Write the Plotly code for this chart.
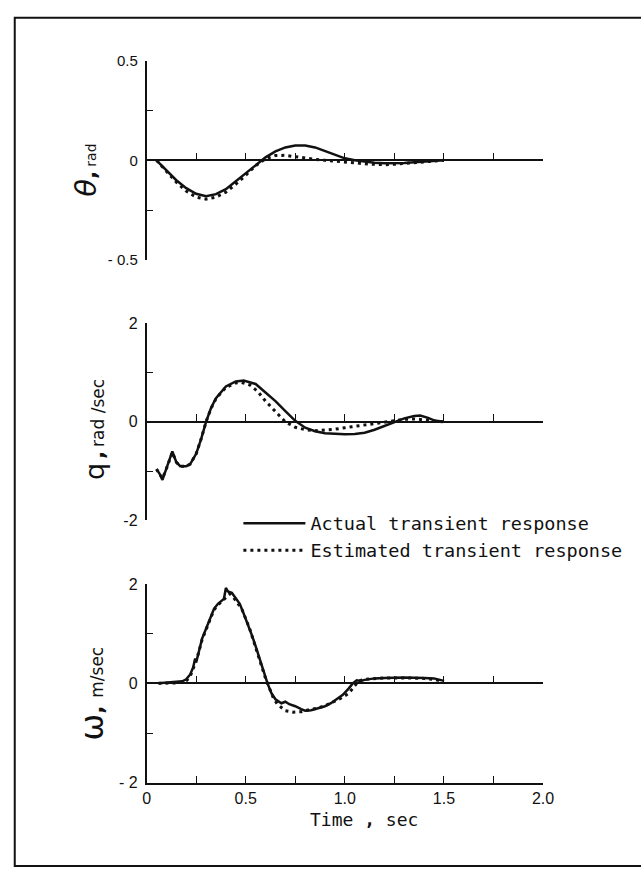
import plotly.graph_objects as go

# ---------------- data ----------------
theta_t = [0.05, 0.1, 0.15, 0.2, 0.25, 0.3, 0.35, 0.4, 0.45, 0.5, 0.55, 0.6, 0.65, 0.7, 0.75,
           0.8, 0.85, 0.9, 0.95, 1.0, 1.05, 1.1, 1.15, 1.2, 1.25, 1.3, 1.35, 1.4, 1.45, 1.5]
theta_act = [0.0, -0.05, -0.1, -0.14, -0.168, -0.18, -0.17, -0.145, -0.105, -0.062, -0.022, 0.015,
             0.045, 0.065, 0.075, 0.075, 0.065, 0.047, 0.027, 0.01, 0.0, -0.007, -0.012, -0.015,
             -0.015, -0.013, -0.01, -0.007, -0.003, 0.0]
theta_est = [0.0, -0.055, -0.11, -0.155, -0.185, -0.195, -0.185, -0.16, -0.12, -0.075, -0.027,
             0.008, 0.024, 0.025, 0.018, 0.01, 0.005, 0.0, -0.005, -0.01, -0.013, -0.017, -0.02,
             -0.022, -0.02, -0.017, -0.012, -0.008, -0.004, 0.0]

q_t_act = [0.05, 0.065, 0.08, 0.1, 0.12, 0.13, 0.15, 0.17, 0.2, 0.22, 0.25, 0.275, 0.3, 0.325,
           0.35, 0.4, 0.45, 0.49, 0.55, 0.6, 0.65, 0.7, 0.75, 0.8, 0.85, 0.9, 0.95, 1.0, 1.05,
           1.1, 1.15, 1.2, 1.25, 1.3, 1.35, 1.38, 1.42, 1.45, 1.5]
q_act = [-0.96, -1.05, -1.18, -0.95, -0.72, -0.6, -0.82, -0.9, -0.9, -0.86, -0.65, -0.35, 0.0,
         0.28, 0.48, 0.72, 0.82, 0.84, 0.77, 0.6, 0.42, 0.22, 0.02, -0.12, -0.19, -0.23, -0.245,
         -0.25, -0.245, -0.22, -0.16, -0.08, 0.0, 0.07, 0.12, 0.13, 0.08, 0.03, 0.0]
q_t_est = [0.05, 0.065, 0.08, 0.1, 0.12, 0.13, 0.15, 0.17, 0.2, 0.22, 0.25, 0.275, 0.3, 0.325,
           0.35, 0.4, 0.45, 0.48, 0.52, 0.56, 0.6, 0.65, 0.7, 0.75, 0.8, 0.85, 0.9, 0.95, 1.0,
           1.05, 1.1, 1.15, 1.2, 1.25, 1.3, 1.35, 1.4, 1.45, 1.5]
q_est = [-0.96, -1.05, -1.15, -0.95, -0.72, -0.62, -0.82, -0.9, -0.9, -0.86, -0.65, -0.35, 0.0,
         0.27, 0.47, 0.7, 0.79, 0.8, 0.75, 0.62, 0.42, 0.2, 0.0, -0.11, -0.16, -0.18, -0.17,
         -0.15, -0.12, -0.09, -0.06, -0.03, 0.0, 0.02, 0.05, 0.06, 0.04, 0.015, 0.0]

w_t_act = [0.06, 0.1, 0.15, 0.18, 0.2, 0.22, 0.235, 0.245, 0.25, 0.26, 0.28, 0.3, 0.32, 0.34,
           0.36, 0.38, 0.39, 0.4, 0.41, 0.43, 0.45, 0.47, 0.49, 0.51, 0.53, 0.55, 0.57, 0.59,
           0.61, 0.63, 0.65, 0.68, 0.7, 0.72, 0.75, 0.78, 0.8, 0.83, 0.87, 0.9, 0.93, 0.96,
           0.99, 1.02, 1.04, 1.06, 1.08, 1.1, 1.15, 1.2, 1.3, 1.4, 1.45, 1.5]
w_act = [0.0, 0.01, 0.02, 0.04, 0.08, 0.18, 0.32, 0.5, 0.42, 0.6, 0.9, 1.1, 1.3, 1.5, 1.6, 1.66,
         1.7, 1.92, 1.85, 1.82, 1.72, 1.6, 1.4, 1.2, 0.98, 0.75, 0.5, 0.22, 0.0, -0.2, -0.32,
         -0.4, -0.37, -0.42, -0.46, -0.52, -0.55, -0.54, -0.5, -0.46, -0.4, -0.32, -0.23, -0.1,
         0.0, 0.06, 0.05, 0.07, 0.1, 0.11, 0.12, 0.11, 0.1, 0.05]
w_t_est = [0.06, 0.1, 0.15, 0.18, 0.2, 0.22, 0.24, 0.25, 0.26, 0.28, 0.3, 0.32, 0.34, 0.36, 0.38,
           0.4, 0.42, 0.44, 0.46, 0.48, 0.5, 0.52, 0.54, 0.56, 0.58, 0.6, 0.62, 0.64, 0.66, 0.7,
           0.74, 0.78, 0.82, 0.86, 0.9, 0.94, 0.98, 1.02, 1.05, 1.07, 1.1, 1.15, 1.2, 1.3, 1.4,
           1.45, 1.5]
w_est = [0.0, 0.0, 0.01, 0.02, 0.05, 0.14, 0.35, 0.5, 0.58, 0.88, 1.08, 1.28, 1.48, 1.58, 1.65,
         1.72, 1.8, 1.72, 1.62, 1.5, 1.3, 1.1, 0.85, 0.62, 0.35, 0.1, -0.1, -0.3, -0.42, -0.55,
         -0.58, -0.57, -0.53, -0.5, -0.45, -0.38, -0.3, -0.2, -0.05, 0.05, 0.08, 0.1, 0.11, 0.11,
         0.1, 0.08, 0.03]

x_minor_ticks = [0.25 * i for i in range(9)]
x_tick_labels = ["0", "", "0.5", "", "1.0", "", "1.5", "", "2.0"]
theta_ticks = [-0.5, -0.25, 0, 0.25, 0.5]
theta_tick_labels = ["- 0.5", "", "0", "", "0.5"]
q_ticks = [-2, -1, 0, 1, 2]
q_tick_labels = ["-2", "", "0", "", "2"]
w_ticks = [-2, -1, 0, 1, 2]
w_tick_labels = ["- 2", "", "0", "", "2"]
legend_names = ["Actual transient response", "Estimated transient response"]

# ---------------- layout geometry ----------------
W, H = 641, 876
def px(x):
    return x / W
def py(y):
    return (H - y) / H

XD = [px(146), px(552)]
TOP = [py(256), py(53)]
MID = [py(522), py(321)]
BOT = [py(790), py(587)]

FONT = "Liberation Sans"
MONO = "DejaVu Sans Mono"
BLACK = "#111111"
solid = dict(color=BLACK, width=2.5)
dotted = dict(color=BLACK, width=3, dash="3px,4px")

fig = go.Figure()
fig.add_trace(go.Scatter(x=theta_t, y=theta_act, mode="lines", line=solid,
                         name=legend_names[0], xaxis="x", yaxis="y", showlegend=True))
fig.add_trace(go.Scatter(x=theta_t, y=theta_est, mode="lines", line=dotted,
                         name=legend_names[1], xaxis="x", yaxis="y", showlegend=True))
fig.add_trace(go.Scatter(x=q_t_act, y=q_act, mode="lines", line=solid,
                         xaxis="x2", yaxis="y2", showlegend=False))
fig.add_trace(go.Scatter(x=q_t_est, y=q_est, mode="lines", line=dotted,
                         xaxis="x2", yaxis="y2", showlegend=False))
fig.add_trace(go.Scatter(x=w_t_act, y=w_act, mode="lines", line=solid,
                         xaxis="x3", yaxis="y3", showlegend=False))
fig.add_trace(go.Scatter(x=w_t_est, y=w_est, mode="lines", line=dotted,
                         xaxis="x3", yaxis="y3", showlegend=False))
# carrier for the zero-line axis of the bottom panel
fig.add_trace(go.Scatter(x=[None], y=[None], xaxis="x4", yaxis="y3", showlegend=False,
                         hoverinfo="skip"))

def zero_pos(domain_pair, rng):
    lo, hi = domain_pair
    return lo + (hi - lo) * (0 - rng[0]) / (rng[1] - rng[0])

common_x = dict(range=[0, 2], domain=XD, showgrid=False, zeroline=False, showline=True,
                linecolor=BLACK, linewidth=1.6, ticks="inside", ticklen=7, tickwidth=1.4,
                tickcolor=BLACK, tickvals=x_minor_ticks, fixedrange=True)
common_y = dict(showgrid=False, zeroline=False, showline=True, linecolor=BLACK,
                linewidth=1.6, ticks="inside", ticklen=7, tickwidth=1.4, tickcolor=BLACK,
                ticklabelstandoff=4, fixedrange=True)

fig.update_layout(
    width=W, height=H,
    margin=dict(l=0, r=0, t=0, b=0),
    paper_bgcolor="white", plot_bgcolor="rgba(0,0,0,0)",
    xaxis=dict(common_x, anchor="free", position=zero_pos(TOP, [-0.5, 0.5]),
               showticklabels=False),
    yaxis=dict(common_y, domain=TOP, range=[-0.5, 0.5], anchor="x",
               tickvals=theta_ticks, ticktext=theta_tick_labels,
               tickfont=dict(family=FONT, size=15, color=BLACK)),
    xaxis2=dict(common_x, anchor="free", position=zero_pos(MID, [-2, 2]),
                showticklabels=False),
    yaxis2=dict(common_y, domain=MID, range=[-2, 2], anchor="x2",
                tickvals=q_ticks, ticktext=q_tick_labels,
                tickfont=dict(family=FONT, size=16, color=BLACK)),
    xaxis3=dict(common_x, anchor="y3", ticktext=x_tick_labels,
                tickfont=dict(family=FONT, size=16, color=BLACK)),
    yaxis3=dict(common_y, domain=BOT, range=[-2, 2], anchor="x3",
                tickvals=w_ticks, ticktext=w_tick_labels,
                tickfont=dict(family=FONT, size=16, color=BLACK)),
    xaxis4=dict(common_x, anchor="free", overlaying="x3",
                position=zero_pos(BOT, [-2, 2]), showticklabels=False),
    showlegend=True,
    legend=dict(x=px(240), y=py(506), xanchor="left", yanchor="top",
                font=dict(family=MONO, size=18.5, color=BLACK), bgcolor="rgba(0,0,0,0)",
                itemwidth=62, tracegroupgap=0),
    font=dict(family=FONT, color=BLACK),
)

# axis titles (rotated)
ann = dict(xref="paper", yref="paper", textangle=-90, showarrow=False,
           xanchor="center", yanchor="middle")
fig.add_annotation(ann, x=px(84), y=py(165), font=dict(family="DejaVu Sans", color=BLACK),
                   text="<span style='font-size:29px'><i>θ</i></span><span style='font-size:22px'><b>,</b></span> <span style='font-size:14px'>rad</span>")
fig.add_annotation(ann, x=px(92), y=py(429), font=dict(family="DejaVu Sans", color=BLACK),
                   text="<span style='font-size:27px'>q</span> <span style='font-size:22px'><b>,</b></span> <span style='font-size:17px'>rad /sec</span>")
fig.add_annotation(ann, x=px(90), y=py(699), font=dict(family="DejaVu Sans", color=BLACK),
                   text="<span style='font-size:32px'>ω</span><span style='font-size:22px'><b>,</b></span>  <span style='font-size:17px'>m/sec</span>")
fig.add_annotation(x=px(369), y=py(828), xref="paper", yref="paper", showarrow=False,
                   xanchor="center", yanchor="middle",
                   text="Time <b>,</b> sec", font=dict(family=MONO, size=18, color=BLACK))

# outer frame
fig.add_shape(type="rect", xref="paper", yref="paper", x0=px(11), x1=px(680),
              y0=py(875), y1=py(9), line=dict(color=BLACK, width=2))

fig.write_html("out.html", config={"displayModeBar": False},
               post_script="document.body.style.margin='0';document.body.style.overflow='hidden';")
